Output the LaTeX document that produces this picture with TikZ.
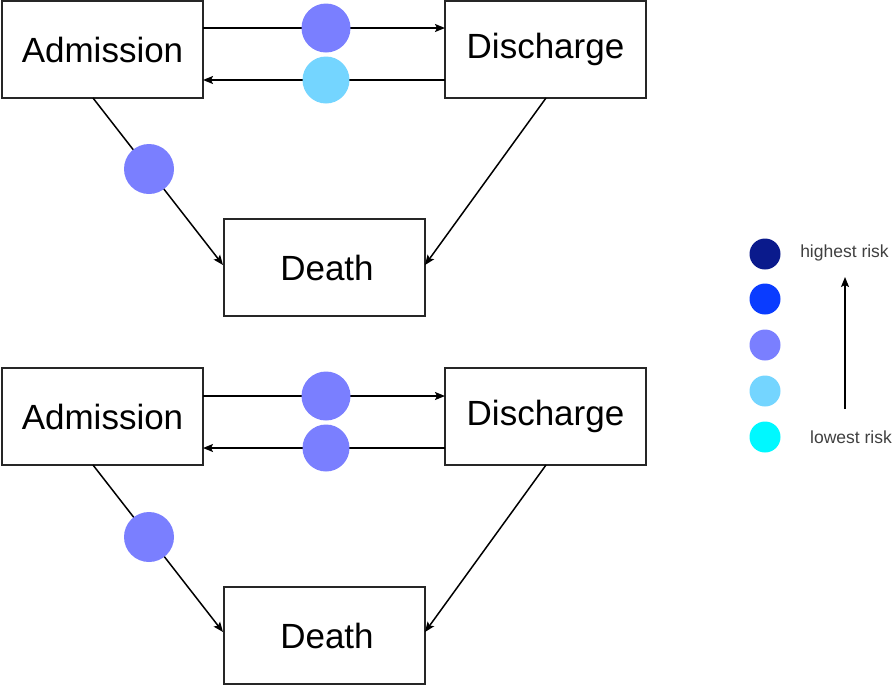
\documentclass[tikz,border=0pt]{standalone}
\usepackage{fontspec}
\setmainfont{Liberation Sans}
\usetikzlibrary{arrows.meta}
\definecolor{rnavy}{HTML}{0A1A8C}
\definecolor{rblue}{HTML}{0A3CFF}
\definecolor{rperi}{HTML}{7A7FFF}
\definecolor{rlight}{HTML}{74D5FF}
\definecolor{rcyan}{HTML}{00F8FF}
\begin{document}
\begin{tikzpicture}[x=1pt,y=-1pt,
  state/.style={draw=black!85,line width=2pt,minimum width=201pt,minimum height=97pt,inner sep=0pt,font=\fontsize{35}{40}\selectfont},
  flow/.style={line width=1.5pt,-{Stealth[length=10pt,width=8pt,inset=2pt]}},
  risk/.style={circle,inner sep=0pt,minimum size=#1,draw=none},
  lab/.style={font=\fontsize{17.5}{20}\selectfont,text=black!75,inner sep=0pt}]
\useasboundingbox (0,0) rectangle (893,686);
% top panel
\node[state] (a1) at (102.5,49.5) {Admission};
\node[state] (d1) at (545.5,49.5) {Discharge};
\node[state] (x1) at (324,267.5) {\hspace*{6pt}Death};
\coordinate (a1f) at (203,28); \coordinate (d1f) at (445,28);
\coordinate (a1b) at (203,80); \coordinate (d1b) at (445,80);
\coordinate (a1s) at (93,98); \coordinate (x1l) at (223,265);
\coordinate (d1s) at (546,98); \coordinate (x1r) at (425,265);
\draw[flow] (a1f) -- (d1f);
\draw[flow] (d1b) -- (a1b);
\draw[flow] (a1s) -- (x1l);
\draw[flow] (d1s) -- (x1r);
\node[risk=49pt,fill=rperi] (c1) at (326,28) {};
\node[risk=47pt,fill=rlight] (c2) at (326,80) {};
\node[risk=50pt,fill=rperi] (c3) at (149,169) {};
% bottom panel
\node[state] (a2) at (102.5,416.5) {Admission};
\node[state] (d2) at (545.5,416.5) {Discharge};
\node[state] (x2) at (324,635.5) {\hspace*{6pt}Death};
\coordinate (a2f) at (203,396); \coordinate (d2f) at (445,396);
\coordinate (a2b) at (203,448); \coordinate (d2b) at (445,448);
\coordinate (a2s) at (93,465); \coordinate (x2l) at (223,632);
\coordinate (d2s) at (546,465); \coordinate (x2r) at (425,632);
\draw[flow] (a2f) -- (d2f);
\draw[flow] (d2b) -- (a2b);
\draw[flow] (a2s) -- (x2l);
\draw[flow] (d2s) -- (x2r);
\node[risk=49pt,fill=rperi] (c4) at (326,396) {};
\node[risk=47pt,fill=rperi] (c5) at (326,448) {};
\node[risk=50pt,fill=rperi] (c6) at (149,537) {};
% legend
\node[risk=31pt,fill=rnavy] (l1) at (765,254) {};
\node[risk=31pt,fill=rblue] (l2) at (765,299) {};
\node[risk=31pt,fill=rperi] (l3) at (765,345) {};
\node[risk=31pt,fill=rlight] (l4) at (765,391) {};
\node[risk=31pt,fill=rcyan] (l5) at (765,437) {};
\node[lab] (hi) at (844.5,253) {highest risk};
\node[lab] (lo) at (851,437) {lowest risk};
\coordinate (ab) at (845,409); \coordinate (at) at (845,277);
\draw[flow] (ab) -- (at);
\end{tikzpicture}
\end{document}
